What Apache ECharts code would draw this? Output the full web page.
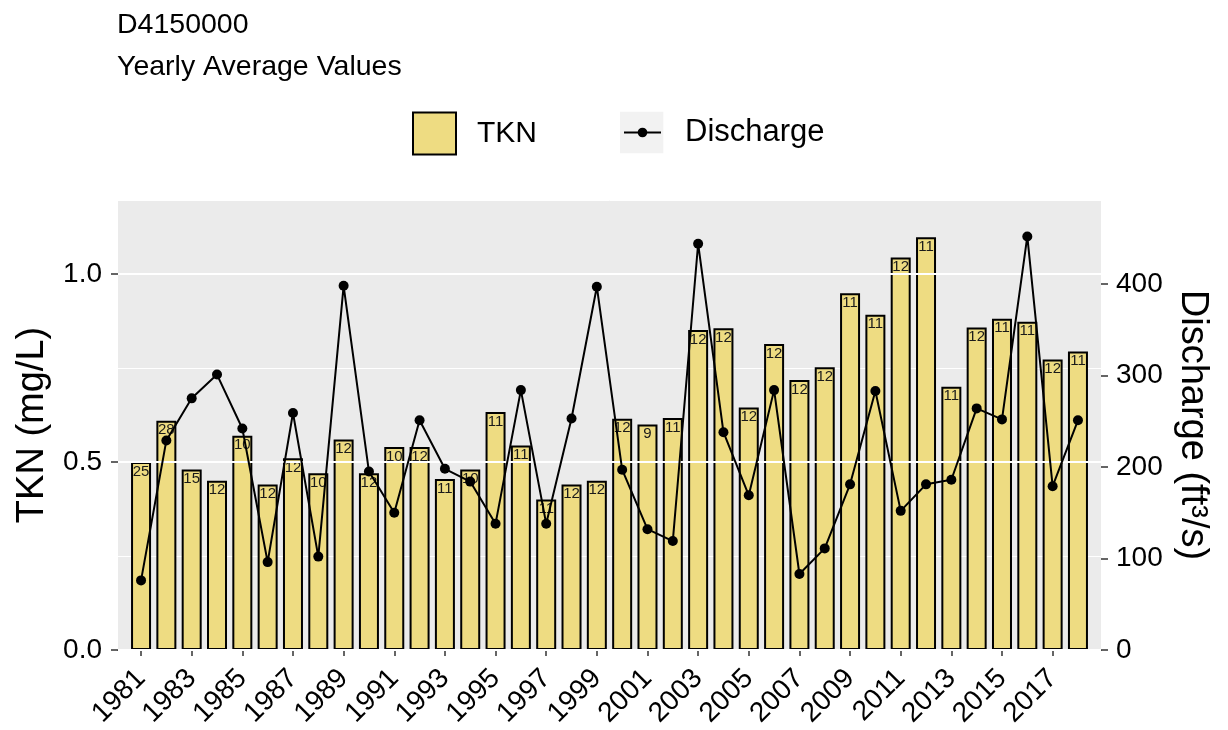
<!DOCTYPE html>
<html>
<head>
<meta charset="utf-8">
<script src="https://cdn.jsdelivr.net/npm/echarts@6/dist/echarts.min.js"></script>
<style>html,body{margin:0;padding:0;background:#fff}#c{width:1228px;height:730px}</style>
</head>
<body>
<div id="c"></div>
<script>
const years = [1981,1982,1983,1984,1985,1986,1987,1988,1989,1990,1991,1992,1993,1994,1995,1996,1997,1998,1999,2000,2001,2002,2003,2004,2005,2006,2007,2008,2009,2010,2011,2012,2013,2014,2015,2016,2017,2018];
const tkn = [0.50,0.61,0.48,0.45,0.57,0.44,0.51,0.47,0.56,0.47,0.54,0.54,0.455,0.48,0.633,0.544,0.40,0.44,0.45,0.615,0.60,0.617,0.851,0.856,0.645,0.814,0.718,0.752,0.949,0.892,1.044,1.098,0.70,0.858,0.881,0.873,0.773,0.794];
const counts = [25,28,15,12,10,12,12,10,12,12,10,12,11,10,11,11,11,12,12,12,9,11,12,12,12,12,12,12,11,11,12,11,11,12,11,11,12,11];
const discharge = [76,229,275,301,242,96,259,102,398,195,150,251,198,184,138,284,138,253,397,197,132,119,444,238,169,284,83,111,181,283,152,181,186,264,252,452,179,251];
const xTicks = [1981,1983,1985,1987,1989,1991,1993,1995,1997,1999,2001,2003,2005,2007,2009,2011,2013,2015,2017];
const leftTicks = [0, 0.5, 1.0];
const rightTicks = [0, 100, 200, 300, 400];

const FONT = 'Liberation Sans';
const barData = years.map((y, i) => [y, tkn[i]]);
const lineData = years.map((y, i) => [y, discharge[i]]);

const chart = echarts.init(document.getElementById('c'), null, {renderer: 'canvas'});
chart.setOption({
  backgroundColor: '#ffffff',
  animation: false,
  textStyle: {fontFamily: FONT},
  title: [
    {text: 'D4150000', left: 112, top: 6, textStyle: {fontFamily: FONT, fontSize: 28.5, fontWeight: 'normal', color: '#000'}},
    {text: 'Yearly Average Values', left: 112, top: 48, textStyle: {fontFamily: FONT, fontSize: 28.5, fontWeight: 'normal', color: '#000'}}
  ],
  graphic: [
    {type: 'rect', shape: {x: 620, y: 111.7, width: 43.3, height: 41.6}, style: {fill: '#F2F2F2'}, z: 0}
  ],
  legend: [
    {
      top: 106.5, left: 407,
      itemWidth: 43, itemHeight: 42,
      selectedMode: false,
      textStyle: {fontFamily: FONT, fontSize: 30, color: '#000', padding: [0,0,0,16]},
      data: [{name: 'TKN', icon: 'rect', itemStyle: {color: '#EEDC82', borderColor: '#000', borderWidth: 2}}]
    },
    {
      top: 112, left: 618,
      itemWidth: 37, itemHeight: 12,
      selectedMode: false,
      textStyle: {fontFamily: FONT, fontSize: 31, color: '#000', padding: [0,0,0,19]},
      data: [{name: 'Discharge'}]
    }
  ],
  grid: {left: 118, right: 127, top: 200, bottom: 80, backgroundColor: '#EBEBEB', show: true, borderWidth: 0},
  xAxis: {
    type: 'value', min: 1980.09, max: 2018.91,
    axisLine: {show: true, lineStyle: {color: '#000', width: 1.2}},
    axisTick: {show: true, customValues: xTicks, length: 6, lineStyle: {color: '#333', width: 1.5}},
    axisLabel: {customValues: xTicks, rotate: 45, fontSize: 28, color: '#000', fontFamily: FONT, margin: 24,
      formatter: v => String(v)},
    splitLine: {show: false}
  },
  yAxis: [
    {
      type: 'value', min: 0, max: 1.197, interval: 0.5,
      name: 'TKN (mg/L)', nameLocation: 'middle', nameGap: 66, nameRotate: 90,
      nameTextStyle: {fontFamily: FONT, fontSize: 38, color: '#000'},
      axisLine: {show: false},
      axisTick: {show: true, length: 7, customValues: leftTicks, lineStyle: {color: '#333', width: 1.5}},
      axisLabel: {customValues: leftTicks, fontSize: 28, color: '#000', fontFamily: FONT, margin: 16,
        formatter: v => v.toFixed(1)},
      splitLine: {show: true, lineStyle: {color: '#ffffff', width: 2}},
      z: 3
    },
    {
      type: 'value', min: 0, max: 491.8, interval: 100, position: 'right',
      name: 'Discharge (ft³/s)', nameLocation: 'middle', nameGap: 72, nameRotate: -90,
      nameTextStyle: {fontFamily: FONT, fontSize: 38, color: '#000'},
      axisLine: {show: false},
      axisTick: {show: true, length: 7, customValues: rightTicks, lineStyle: {color: '#333', width: 1.5}},
      axisLabel: {customValues: rightTicks, fontSize: 28, color: '#000', fontFamily: FONT, margin: 15},
      splitLine: {show: false}
    },
    {
      type: 'value', min: 0, max: 1.197, interval: 0.25, position: 'left',
      axisLine: {show: false}, axisTick: {show: false}, axisLabel: {show: false},
      splitLine: {show: true, lineStyle: {color: '#ffffff', width: 1}}
    }
  ],
  series: [
    {
      name: 'TKN', type: 'bar', yAxisIndex: 0, data: barData,
      barWidth: 20,
      itemStyle: {color: '#EEDC82', borderColor: '#000', borderWidth: 2},
      label: {show: true, position: 'insideTop', distance: 2, fontSize: 15, color: '#1a1a1a', fontFamily: FONT,
        formatter: p => String(counts[p.dataIndex])},
      z: 2
    },
    {
      name: 'Discharge', type: 'line', yAxisIndex: 1, data: lineData,
      symbol: 'circle', symbolSize: 10,
      lineStyle: {color: '#000', width: 2},
      itemStyle: {color: '#000'},
      z: 5
    }
  ]
});
</script>
</body>
</html>
